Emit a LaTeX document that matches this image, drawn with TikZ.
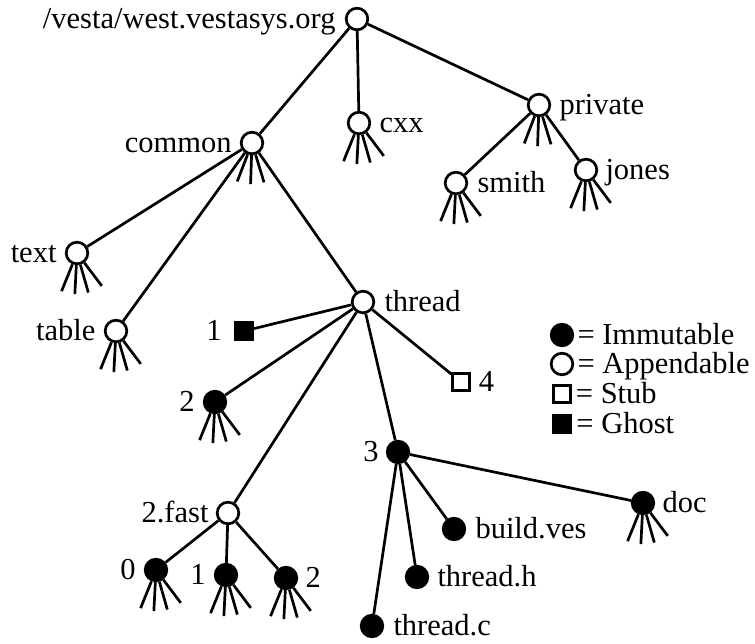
\documentclass[tikz,border=0pt]{standalone}
\usepackage{fontspec}
\setmainfont{Liberation Serif}
\usepackage{tikz}
\usetikzlibrary{positioning}

\begin{document}
\begin{tikzpicture}[x=1pt, y=-1pt, line width=2.7pt,
    font=\fontsize{30.5pt}{30pt}\selectfont, node distance=7pt,
    lbl/.style={inner sep=0pt, text height=22pt, text depth=3pt},
    openv/.style={circle, draw, fill=white, inner sep=0pt, minimum size=21.6pt},
    fullv/.style={circle, draw, fill=black, inner sep=0pt, minimum size=21.6pt},
    stubv/.style={draw, fill=white, inner sep=0pt, minimum size=16.5pt},
    ghostv/.style={draw, fill=black, inner sep=0pt, minimum size=17.5pt}]
    \useasboundingbox (0,0) rectangle (755,643);

    % Top of the tree
    \node[openv] (root) at (357,19) {};
    \node[openv] (common) at (252,143) {};
    \node[openv] (cxx) at (359,123) {};
    \node[openv] (private) at (539,105) {};
    \node[openv] (smith) at (456,183) {};
    \node[openv] (jones) at (586,170) {};
    \node[openv] (text) at (77,253) {};
    \node[openv] (table) at (116,331) {};
    \node[openv] (thread) at (363,302) {};

    % Versions of thread
    \node[ghostv] (ghost) at (244,331) {};
    \node[stubv] (stub) at (461,382) {};
    \node[fullv] (ver2) at (215,402) {};
    \node[fullv] (ver3) at (398,452) {};
    \node[openv] (fast) at (228,513) {};
    \node[fullv] (doc) at (643,503) {};
    \node[fullv] (build) at (454,529) {};
    \node[fullv] (hfile) at (417,577) {};
    \node[fullv] (cfile) at (372,626) {};
    \node[fullv] (fast0) at (156,570) {};
    \node[fullv] (fast1) at (226,575) {};
    \node[fullv] (fast2) at (286,578) {};

    % Labels
    \node[lbl, left=8pt of root] (root-l) {/vesta/west.vestasys.org};
    \node[lbl, left=7pt of common] (common-l) {common};
    \node[lbl, right=7pt of cxx] (cxx-l) {cxx};
    \node[lbl, right=7pt of private] (private-l) {private};
    \node[lbl, right=8pt of smith] (smith-l) {smith};
    \node[lbl, right=6pt of jones] (jones-l) {jones};
    \node[lbl, left=7pt of text] (text-l) {text};
    \node[lbl, left=7pt of table] (table-l) {table};
    \node[lbl, right=8pt of thread] (thread-l) {thread};
    \node[lbl, left=11pt of ghost] (ghost-l) {1};
    \node[lbl, right=7pt of stub] (stub-l) {4};
    \node[lbl, left=7pt of ver2] (ver2-l) {2};
    \node[lbl, left=6pt of ver3] (ver3-l) {3};
    \node[lbl, left=6pt of fast] (fast-l) {2.fast};
    \node[lbl, right=6pt of doc] (doc-l) {doc};
    \node[lbl, right=8pt of build] (build-l) {build.ves};
    \node[lbl, right=7pt of hfile] (hfile-l) {thread.h};
    \node[lbl, right=8pt of cfile] (cfile-l) {thread.c};
    \node[lbl, left=7pt of fast0] (fast0-l) {0};
    \node[lbl, left=7pt of fast1] (fast1-l) {1};
    \node[lbl, right=6pt of fast2] (fast2-l) {2};

    % Edges
    \draw (root) -- (common);
    \draw (root) -- (cxx);
    \draw (root) -- (private);
    \draw (private) -- (smith);
    \draw (private) -- (jones);
    \draw (common) -- (text);
    \draw (common) -- (table);
    \draw (common) -- (thread);
    \draw (thread) -- (ghost);
    \draw (thread) -- (stub);
    \draw (thread) -- (ver2);
    \draw (thread) -- (ver3);
    \draw (thread) -- (fast);
    \draw (ver3) -- (doc);
    \draw (ver3) -- (build);
    \draw (ver3) -- (hfile);
    \draw (ver3) -- (cfile);
    \draw (fast) -- (fast0);
    \draw (fast) -- (fast1);
    \draw (fast) -- (fast2);

    % Fringes of unshown children
    \foreach \n in {cxx,smith,jones,text,table,ver2,doc,fast0,fast1,fast2}
        \foreach \a in {-112,-93,-74,-53}
            \draw (\n.\a) -- ++(\a:29pt);
    \foreach \n in {common,private}
        \foreach \a in {-111,-92,-73}
            \draw (\n.\a) -- ++(\a:29pt);

    % Legend
    \node[fullv] (key-imm) at (562,335) {};
    \node[openv] (key-app) at (562,364) {};
    \node[stubv] (key-stub) at (562,394) {};
    \node[ghostv] (key-ghost) at (562,424) {};
    \node[lbl, right=2pt of key-imm] (key-imm-l) {= Immutable};
    \node[lbl, right=2pt of key-app] (key-app-l) {= Appendable};
    \node[lbl, right=3pt of key-stub] (key-stub-l) {= Stub};
    \node[lbl, right=3pt of key-ghost] (key-ghost-l) {= Ghost};
\end{tikzpicture}
\end{document}
